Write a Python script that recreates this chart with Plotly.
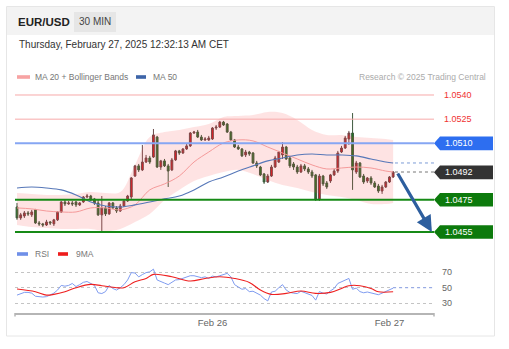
import pandas as pd
import plotly.graph_objects as go

W, H = 509, 349

# ---- EUR/USD 30-minute candles ----
bar_start = "2025-02-24 21:30"
opens = [1.04705, 1.04637, 1.04649, 1.04668, 1.04656, 1.04687, 1.04606, 1.04600, 1.04593, 1.04612,
         1.04600, 1.04625, 1.04674, 1.04736, 1.04724, 1.04730, 1.04736, 1.04718, 1.04736, 1.04767,
         1.04773, 1.04755, 1.04730, 1.04656, 1.04699, 1.04662, 1.04730, 1.04699, 1.04680, 1.04711,
         1.04742, 1.04767, 1.04897, 1.04960, 1.04935, 1.04984, 1.05009, 1.05015, 1.05139, 1.04953,
         1.04991, 1.04960, 1.04935, 1.04997, 1.05053, 1.05040, 1.05065, 1.05084, 1.05164, 1.05170,
         1.05139, 1.05121, 1.05121, 1.05127, 1.05195, 1.05201, 1.05232, 1.05220, 1.05170, 1.05121,
         1.05077, 1.05065, 1.05028, 1.05046, 1.05040, 1.04978, 1.04953, 1.04910, 1.04860, 1.04897,
         1.04953, 1.04984, 1.05028, 1.05077, 1.05009, 1.04972, 1.04953, 1.04922, 1.04960, 1.04941,
         1.04922, 1.04904, 1.04755, 1.04897, 1.04854, 1.04866, 1.04904, 1.04928, 1.05046, 1.05071,
         1.05127, 1.05164, 1.04922, 1.04978, 1.04897, 1.04866, 1.04885, 1.04854, 1.04835, 1.04804,
         1.04829, 1.04860, 1.04891]
closes = [1.04637, 1.04656, 1.04668, 1.04662, 1.04674, 1.04606, 1.04600, 1.04593, 1.04612, 1.04606,
          1.04625, 1.04674, 1.04736, 1.04724, 1.04730, 1.04724, 1.04718, 1.04730, 1.04767, 1.04773,
          1.04749, 1.04730, 1.04656, 1.04699, 1.04662, 1.04730, 1.04699, 1.04680, 1.04711, 1.04742,
          1.04773, 1.04885, 1.04960, 1.04935, 1.04984, 1.05009, 1.04984, 1.05152, 1.04953, 1.04991,
          1.04960, 1.04928, 1.04997, 1.05053, 1.05040, 1.05065, 1.05084, 1.05164, 1.05170, 1.05139,
          1.05121, 1.05127, 1.05133, 1.05195, 1.05201, 1.05232, 1.05214, 1.05170, 1.05121, 1.05077,
          1.05065, 1.05022, 1.05046, 1.05034, 1.04978, 1.04960, 1.04904, 1.04860, 1.04897, 1.04953,
          1.05009, 1.05046, 1.05077, 1.05003, 1.04960, 1.04953, 1.04922, 1.04960, 1.04941, 1.04922,
          1.04897, 1.04755, 1.04897, 1.04848, 1.04829, 1.04904, 1.04928, 1.05040, 1.05071, 1.05133,
          1.05164, 1.04935, 1.04978, 1.04891, 1.04860, 1.04885, 1.04854, 1.04829, 1.04804, 1.04829,
          1.04860, 1.04891, 1.04922]
highs = [1.04730, 1.04668, 1.04680, 1.04680, 1.04687, 1.04693, 1.04618, 1.04606, 1.04625, 1.04618,
         1.04631, 1.04680, 1.04742, 1.04749, 1.04742, 1.04742, 1.04742, 1.04736, 1.04773, 1.04786,
         1.04780, 1.04761, 1.04749, 1.04773, 1.04711, 1.04736, 1.04736, 1.04711, 1.04724, 1.04749,
         1.04780, 1.04891, 1.04966, 1.04972, 1.05090, 1.05028, 1.05022, 1.05189, 1.05146, 1.04997,
         1.05003, 1.04972, 1.05009, 1.05059, 1.05059, 1.05071, 1.05096, 1.05170, 1.05177, 1.05183,
         1.05152, 1.05139, 1.05146, 1.05201, 1.05214, 1.05239, 1.05239, 1.05226, 1.05177, 1.05127,
         1.05090, 1.05071, 1.05059, 1.05053, 1.05046, 1.04991, 1.04960, 1.04916, 1.04910, 1.04966,
         1.05022, 1.05053, 1.05108, 1.05084, 1.05015, 1.04984, 1.04966, 1.04972, 1.04972, 1.04953,
         1.04935, 1.04910, 1.04910, 1.04904, 1.04866, 1.04910, 1.04941, 1.05053, 1.05084, 1.05146,
         1.05177, 1.05288, 1.04991, 1.04984, 1.04910, 1.04891, 1.04897, 1.04866, 1.04848, 1.04842,
         1.04866, 1.04897, 1.04928]
lows = [1.04625, 1.04625, 1.04637, 1.04649, 1.04643, 1.04600, 1.04587, 1.04581, 1.04587, 1.04593,
        1.04587, 1.04618, 1.04668, 1.04711, 1.04718, 1.04711, 1.04705, 1.04711, 1.04730, 1.04761,
        1.04742, 1.04718, 1.04649, 1.04550, 1.04649, 1.04656, 1.04693, 1.04668, 1.04674, 1.04705,
        1.04736, 1.04755, 1.04891, 1.04922, 1.04928, 1.04978, 1.04972, 1.05009, 1.04947, 1.04935,
        1.04953, 1.04829, 1.04928, 1.04991, 1.05028, 1.05034, 1.05059, 1.05077, 1.05158, 1.05133,
        1.05115, 1.05115, 1.05115, 1.05121, 1.05183, 1.05195, 1.05208, 1.05164, 1.05115, 1.05071,
        1.05059, 1.05015, 1.05015, 1.05022, 1.04972, 1.04947, 1.04897, 1.04848, 1.04854, 1.04891,
        1.04947, 1.04978, 1.05003, 1.04997, 1.04947, 1.04935, 1.04910, 1.04916, 1.04928, 1.04910,
        1.04885, 1.04742, 1.04742, 1.04835, 1.04817, 1.04854, 1.04897, 1.04916, 1.05040, 1.05065,
        1.05090, 1.04811, 1.04910, 1.04885, 1.04848, 1.04854, 1.04842, 1.04823, 1.04792, 1.04786,
        1.04823, 1.04854, 1.04885]

# ---- moving averages, sampled every few bars ----
ma_idx = [0, 4, 8, 12, 16, 20, 24, 28, 32, 36, 40, 44, 48, 52, 56, 60, 64, 68, 72, 76, 80, 84,
          88, 92, 96, 100, 102]
ma50 = [1.04823, 1.04829, 1.04823, 1.04811, 1.04780, 1.04736, 1.04711, 1.04705, 1.04718, 1.04736,
        1.04755, 1.04773, 1.04811, 1.04860, 1.04891, 1.04928, 1.04960, 1.04991, 1.05009, 1.05028,
        1.05034, 1.05028, 1.05028, 1.05022, 1.05003, 1.04984, 1.04978]
ma20 = [1.04699, 1.04693, 1.04680, 1.04674, 1.04674, 1.04699, 1.04699, 1.04687, 1.04718, 1.04811,
        1.04848, 1.04897, 1.04984, 1.05046, 1.05102, 1.05121, 1.05115, 1.05077, 1.05040, 1.05003,
        1.04966, 1.04941, 1.04947, 1.04953, 1.04947, 1.04928, 1.04922]
bb_upper = [1.04792, 1.04786, 1.04780, 1.04780, 1.04786, 1.04798, 1.04792, 1.04798, 1.04966, 1.05139,
            1.05170, 1.05183, 1.05201, 1.05220, 1.05264, 1.05270, 1.05276, 1.05295, 1.05288, 1.05245,
            1.05183, 1.05152, 1.05152, 1.05139, 1.05133, 1.05127, 1.05121]
bb_lower = [1.04593, 1.04581, 1.04575, 1.04569, 1.04569, 1.04569, 1.04556, 1.04569, 1.04612, 1.04662,
            1.04749, 1.04811, 1.04866, 1.04897, 1.04922, 1.04935, 1.04910, 1.04873, 1.04842, 1.04823,
            1.04798, 1.04780, 1.04767, 1.04749, 1.04724, 1.04724, 1.04730]

# ---- RSI(14) per bar and its 9-period average ----
rsi = [40.5, 42, 44, 44, 43, 39, 38.5, 38, 38.5, 41,
       43, 47, 53, 52, 53, 55.5, 51.5, 54, 57, 58,
       56, 53, 43.5, 42.5, 45, 53, 49, 47, 50, 54,
       60, 69.5, 69, 64, 67, 69.5, 70.5, 74, 60, 58.5,
       56, 54, 57.5, 60, 60.5, 62, 63, 65.5, 65.5, 64,
       63, 64, 62, 65, 64, 65.5, 67, 68.5, 64, 54,
       51, 48, 49, 45, 45.5, 43, 40.5, 36, 33, 44.5,
       45.5, 50, 54, 47, 44, 43, 42.5, 45.5, 43.5, 41,
       40, 34, 45, 43, 42, 46, 49, 55.5, 58, 60,
       62, 48, 49.5, 45, 43.5, 44.5, 43, 41.5, 41, 43,
       45, 47, 49.5]
rsi_ma_idx = [0, 5, 8, 10, 13, 16, 20, 23, 27, 29, 32, 35, 37, 42, 47, 51, 55, 59, 63, 66, 69,
              73, 77, 81, 85, 88, 90, 93, 96, 98, 102]
rsi_ma = [48.3, 44.8, 40.5, 41.4, 44.8, 50, 54.3, 52.6, 50, 50, 57.7, 62, 67.2, 64.2, 58.6, 62,
          64.2, 62, 56.9, 47, 41.4, 42.7, 45.7, 42.7, 44, 49.1, 52.6, 52.6, 49.1, 44.8, 44.8]

# ---- key levels ----
resistances = [1.0540, 1.0525]
pivot = 1.0510
supports = [1.0475, 1.0455]
rsi_levels = [30, 50, 70]
day_ticks = ["2025-02-26", "2025-02-27"]
day_labels = ["Feb 26", "Feb 27"]

FONT = "Liberation Sans, Arial, Helvetica, sans-serif"
step = pd.Timedelta("30min")
times = pd.date_range(bar_start, periods=len(closes), freq="30min")
ma_t = times[ma_idx]
rsi_ma_t = times[rsi_ma_idx]
x_range = [times[0] - 0.54 * step, times[-1] + 11.08 * step]
price_range = [1.04500, 1.05462]
rsi_range = [17.4, 83.2]


def px(x):
    return x / W


def py(y):
    return 1 - y / H


price_dom = [py(240), py(85)]
rsi_dom = [py(313), py(262)]
x_dom = [px(15), px(434)]

fig = go.Figure()

# Bollinger band area
fig.add_trace(go.Scatter(x=ma_t, y=bb_upper, mode="lines", line=dict(width=0, shape="spline"),
                         hoverinfo="skip", showlegend=False))
fig.add_trace(go.Scatter(x=ma_t, y=bb_lower, mode="lines", line=dict(width=0, shape="spline"),
                         fill="tonexty", fillcolor="rgba(245,70,70,0.15)",
                         hoverinfo="skip", showlegend=False))
fig.add_trace(go.Scatter(x=ma_t, y=ma20, mode="lines",
                         line=dict(color="#f59a9a", width=1, shape="spline"), showlegend=False))
fig.add_trace(go.Scatter(x=ma_t, y=ma50, mode="lines",
                         line=dict(color="#5677b8", width=1.1, shape="spline"), showlegend=False))

# projections of last close and last MA50 to the right edge
fig.add_trace(go.Scatter(x=[times[-1] + 0.5 * step, x_range[1]], y=[closes[-1], closes[-1]],
                         mode="lines", line=dict(color="#777777", width=1, dash="dot"),
                         showlegend=False))
fig.add_trace(go.Scatter(x=[times[-1] + 0.5 * step, x_range[1]], y=[ma50[-1], ma50[-1]],
                         mode="lines", line=dict(color="#7c9bd6", width=1, dash="dot"),
                         showlegend=False))

fig.add_trace(go.Candlestick(
    x=times, open=opens, high=highs, low=lows, close=closes,
    increasing=dict(fillcolor="#e3161e", line=dict(color="#6a4a4a", width=1)),
    decreasing=dict(fillcolor="#1d7d1d", line=dict(color="#3f5a3f", width=1)),
    showlegend=False))

# RSI panel
fig.add_trace(go.Scatter(x=times, y=rsi, mode="lines", yaxis="y2",
                         line=dict(color="#7f9cf0", width=1), showlegend=False))
fig.add_trace(go.Scatter(x=rsi_ma_t, y=rsi_ma, mode="lines", yaxis="y2",
                         line=dict(color="#ee2020", width=1.1, shape="spline"), showlegend=False))
fig.add_trace(go.Scatter(x=[times[-1], x_range[1]], y=[50, 50], mode="lines", yaxis="y2",
                         line=dict(color="#8ea6ee", width=1, dash="dot"), showlegend=False))

shapes = []
annotations = []

# card and header
shapes.append(dict(type="rect", xref="paper", yref="paper", x0=px(6.5), x1=px(494.5),
                   y0=py(336), y1=py(6.5), line=dict(color="#e6e6e6", width=1),
                   fillcolor="rgba(0,0,0,0)", layer="below"))
shapes.append(dict(type="rect", xref="paper", yref="paper", x0=px(7), x1=px(494),
                   y0=py(35), y1=py(7), line=dict(width=0), fillcolor="#f3f3f3", layer="below"))
shapes.append(dict(type="rect", xref="paper", yref="paper", x0=px(74), x1=px(116),
                   y0=py(32), y1=py(12), line=dict(width=0), fillcolor="#e6e6e6", layer="below"))
annotations.append(dict(x=px(16), y=py(22), xref="paper", yref="paper", xanchor="left",
                        yanchor="middle", text="<b>EUR/USD</b>", showarrow=False,
                        font=dict(family=FONT, size=11.5, color="#222")))
annotations.append(dict(x=px(95), y=py(22), xref="paper", yref="paper", xanchor="center",
                        yanchor="middle", text="30 MIN", showarrow=False,
                        font=dict(family=FONT, size=10, color="#444")))
annotations.append(dict(x=px(17), y=py(45), xref="paper", yref="paper", xanchor="left",
                        yanchor="middle", text="Thursday, February 27, 2025 12:32:13 AM CET",
                        showarrow=False, font=dict(family=FONT, size=10, color="#333")))

# legends
def legend_item(x_sw, width, y, color, label, x_txt):
    shapes.append(dict(type="rect", xref="paper", yref="paper", x0=px(x_sw), x1=px(x_sw + width),
                       y0=py(y + 1.8), y1=py(y - 1.8), line=dict(width=0), fillcolor=color))
    annotations.append(dict(x=px(x_txt), y=py(y), xref="paper", yref="paper", xanchor="left",
                            yanchor="middle", text=label, showarrow=False,
                            font=dict(family=FONT, size=8.5, color="#777")))


legend_item(17, 13, 77, "#f7a3a3", "MA 20 + Bollinger Bands", 33)
legend_item(136, 10, 77, "#3d64a8", "MA 50", 151)
legend_item(17, 11, 254, "#6f8fe8", "RSI", 33)
legend_item(58, 10, 254, "#ee1c1c", "9MA", 74)
annotations.append(dict(x=px(488), y=py(77), xref="paper", yref="paper", xanchor="right",
                        yanchor="middle", text="Research © 2025 Trading Central", showarrow=False,
                        font=dict(family=FONT, size=8.5, color="#ababab")))

# horizontal levels
for lvl in resistances:
    shapes.append(dict(type="line", xref="x domain", yref="y", x0=0, x1=1, y0=lvl, y1=lvl,
                       line=dict(color="#f7a9a9", width=1)))
    annotations.append(dict(x=px(442), y=lvl, xref="paper", yref="y", xanchor="left",
                            yanchor="middle", text=f"{lvl:.4f}", showarrow=False,
                            font=dict(family=FONT, size=9, color="#f03333")))
shapes.append(dict(type="line", xref="x domain", yref="y", x0=0, x1=1, y0=pivot, y1=pivot,
                   line=dict(color="#86a6f3", width=2)))
for lvl in supports:
    shapes.append(dict(type="line", xref="x domain", yref="y", x0=0, x1=1, y0=lvl, y1=lvl,
                       line=dict(color="#168a16", width=2)))

# pointed price tags on the right
half = 6.8 * (price_range[1] - price_range[0]) / ((price_dom[1] - price_dom[0]) * H)


def tag(level, color):
    path = (f"M {px(434)},{level} L {px(440)},{level + half} L {px(493)},{level + half} "
            f"L {px(493)},{level - half} L {px(440)},{level - half} Z")
    shapes.append(dict(type="path", xref="paper", yref="y", path=path,
                       fillcolor=color, line=dict(width=0)))
    annotations.append(dict(x=px(443), y=level, xref="paper", yref="y", xanchor="left",
                            yanchor="middle", text=f"{level:.4f}", showarrow=False,
                            font=dict(family=FONT, size=9, color="white")))


tag(pivot, "#2d6ef0")
tag(round(closes[-1], 4), "#333333")
for lvl in supports:
    tag(lvl, "#0c7a0c")

# expected move arrow from last close down to the second support
annotations.append(dict(x=times[-1] + 10.5 * step, y=supports[1], xref="x", yref="y",
                        ax=times[-1] + 1.0 * step, ay=closes[-1], axref="x", ayref="y",
                        text="", showarrow=True, arrowhead=2, arrowsize=1, arrowwidth=3.2,
                        arrowcolor="#2d5e9e", standoff=0))

# time axis end caps
for xc in (15, 434):
    shapes.append(dict(type="line", xref="paper", yref="paper", x0=px(xc), x1=px(xc),
                       y0=py(313), y1=py(316.5), line=dict(color="#b5b5b5", width=1.5)))

fig.update_layout(
    width=W, height=H, autosize=False,
    margin=dict(l=0, r=0, t=0, b=0),
    paper_bgcolor="white", plot_bgcolor="rgba(0,0,0,0)",
    showlegend=False,
    font=dict(family=FONT, color="#666"),
    xaxis=dict(domain=x_dom, range=x_range, anchor="y2", type="date",
               showgrid=False, zeroline=False, showline=True, linecolor="#b5b5b5", linewidth=1.5,
               tickvals=day_ticks, ticktext=day_labels, ticks="",
               tickfont=dict(family=FONT, size=9.5, color="#666"),
               rangeslider=dict(visible=False)),
    yaxis=dict(domain=price_dom, range=price_range, anchor="x", showgrid=False,
               zeroline=False, showticklabels=False, ticks=""),
    yaxis2=dict(domain=rsi_dom, range=rsi_range, anchor="x", side="right",
                tickvals=rsi_levels, showgrid=True, gridcolor="#c4c4c4", griddash="dot",
                gridwidth=1, zeroline=False, ticks="", ticklabelstandoff=7,
                tickfont=dict(family=FONT, size=9, color="#666")),
    shapes=shapes,
    annotations=annotations,
)

fig.write_html("out.html", config={"displayModeBar": False})
